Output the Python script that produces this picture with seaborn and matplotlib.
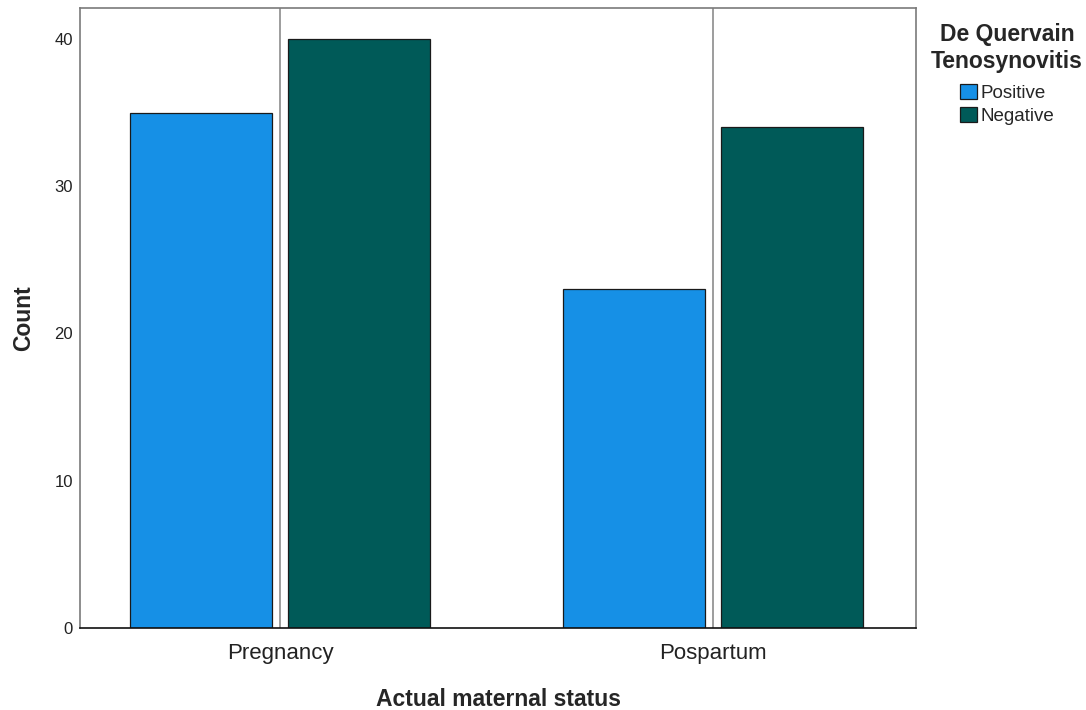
import pandas as pd
import matplotlib.pyplot as plt
import seaborn as sns

# Data
status = ["Pregnancy", "Pospartum"]
positive = [35, 23]
negative = [40, 34]
hue_labels = ["Positive", "Negative"]
colors = ["#1690E6", "#005A58"]

df = pd.DataFrame({
    "status": status * 2,
    "dq": [hue_labels[0]] * 2 + [hue_labels[1]] * 2,
    "count": positive + negative,
})

sns.set_style("white")
plt.rcParams["font.family"] = ["Liberation Sans", "DejaVu Sans"]

fig = plt.figure(figsize=(10.86, 7.1), dpi=100)
ax = fig.add_axes([0.0737, 0.1155, 0.7698, 0.8732])

# vertical reference lines at category centers
for i in range(len(status)):
    ax.axvline(i, color="#8c8c8c", lw=1.2, zorder=0)

sns.barplot(data=df, x="status", y="count", hue="dq", order=status,
            hue_order=hue_labels, palette=colors, saturation=1,
            width=0.73, gap=0.1, edgecolor="#1a1a1a", linewidth=0.9,
            ax=ax, zorder=2)

ax.set_xlim(-0.462, 1.469)
ax.set_ylim(0, 42.1)
ax.set_yticks([0, 10, 20, 30, 40])
ax.tick_params(axis="y", labelsize=12, length=0, pad=5, colors="#222222")
ax.tick_params(axis="x", labelsize=16, length=0, pad=11, colors="#222222")

ax.set_xlabel("Actual maternal status", fontsize=16.5, fontweight="bold", labelpad=17)
ax.set_ylabel("Count", fontsize=16.5, fontweight="bold", labelpad=14)

for side in ["left", "top", "right"]:
    ax.spines[side].set_color("#7a7a7a")
    ax.spines[side].set_linewidth(1.2)
ax.spines["bottom"].set_color("#111111")
ax.spines["bottom"].set_linewidth(1.2)

leg = ax.legend(title="De Quervain\nTenosynovitis", loc="upper left",
                bbox_to_anchor=(0.998, 1.003), frameon=False, fontsize=13.5,
                title_fontproperties={"weight": "bold", "size": 16.5},
                handlelength=0.9, handleheight=0.9, handletextpad=0.2,
                labelspacing=0.25)
leg._legend_box.align = "center"
leg._legend_box.sep = 8
leg.get_title().set_multialignment("center")

fig.savefig("out.png", dpi=100)
